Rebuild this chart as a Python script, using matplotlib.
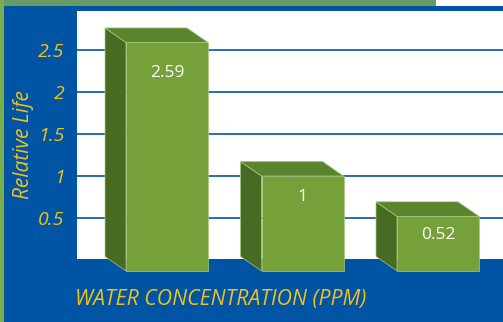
import matplotlib
matplotlib.use("Agg")
import matplotlib.pyplot as plt
from matplotlib.patches import Polygon, Rectangle

# Chart data
categories = ["Low", "Medium", "High"]
relative_life = [2.59, 1.0, 0.52]
tick_values = [0.5, 1, 1.5, 2, 2.5]
tick_labels = ["0.5", "1", "1.5", "2", "2.5"]

W, H = 503, 322
BLUE = "#0054a4"
YELLOW = "#f3c11b"
FRONT = "#76a03a"
TOP = "#5a842d"
SIDE = "#486b23"
EDGE = "#a9c97a"
FONT = ["Open Sans", "DejaVu Sans"]

fig = plt.figure(figsize=(W / 100, H / 100), dpi=100)
fig.patch.set_facecolor("white")

def px_rect(x0, y0, x1, y1, color):
    """Rectangle in pixel units measured from the top-left corner."""
    fig.patches.append(Rectangle((x0 / W, 1 - y1 / H), (x1 - x0) / W, (y1 - y0) / H,
                                 transform=fig.transFigure, facecolor=color,
                                 edgecolor="none", zorder=-10))

# Frame: green strips and the blue panel
px_rect(0, 0, 436, 6, "#689a66")
px_rect(0, 0, 4, H, "#7aae4c")
px_rect(4, 6, W, H, BLUE)

# Plot area (white)
ax_l, ax_t, ax_r, ax_b = 77, 11, 503, 259
ax = fig.add_axes([ax_l / W, 1 - ax_b / H, (ax_r - ax_l) / W, (ax_b - ax_t) / H])
ax.set_zorder(5)
ax.set_facecolor("white")
ppu_y = 84.0                      # pixels per unit on the value axis
step_x = 135.5                    # pixels between bar centres
first_cx = 167
y_bottom = 1 / ppu_y
ax.set_ylim(y_bottom, y_bottom + (ax_b - ax_t) / ppu_y)
ax.set_xlim(-(first_cx - ax_l) / step_x, (ax_r - first_cx) / step_x)
for s in ax.spines.values():
    s.set_visible(False)

ax.set_yticks(tick_values)
ax.set_yticklabels(tick_labels)
ax.set_xticks([])
ax.tick_params(axis="y", length=0, pad=9, colors=YELLOW)
for lab in ax.get_yticklabels():
    lab.set_fontfamily(FONT)
    lab.set_fontstyle("italic")
    lab.set_fontsize(14)
ax.yaxis.grid(True, color="#1c5dab", linewidth=1.3)
ax.set_axisbelow(True)

# 3-D boxes
bar_w = 82 / step_x
dx = -21 / step_x
dy = 14.5 / ppu_y
floor = -11 / ppu_y
for i, v in enumerate(relative_life):
    xl, xr = i - bar_w / 2, i + bar_w / 2
    side = Polygon([(xl, floor), (xl, v), (xl + dx, v + dy), (xl + dx, floor + dy)],
                   closed=True, facecolor=SIDE, edgecolor=EDGE, linewidth=0.5,
                   clip_on=False, zorder=3)
    top = Polygon([(xl, v), (xr, v), (xr + dx, v + dy), (xl + dx, v + dy)],
                  closed=True, facecolor=TOP, edgecolor=EDGE, linewidth=0.5,
                  clip_on=False, zorder=3)
    front = Polygon([(xl, floor), (xr, floor), (xr, v), (xl, v)],
                    closed=True, facecolor=FRONT, edgecolor=EDGE, linewidth=0.5,
                    clip_on=False, zorder=4)
    for p in (side, top, front):
        ax.add_patch(p)
    # value label sits a little lower inside taller boxes
    drop = 11 + 4.2 * v
    ax.annotate(f"{v:g}", (i, v), xytext=(0, -drop), textcoords="offset points",
                ha="center", va="center", color="white", fontsize=12.5,
                family=FONT, zorder=5)

# Axis titles
fig.text(23 / W, 1 - 145 / H, "Relative Life", rotation=90, ha="center", va="center",
         color=YELLOW, fontsize=15, fontstyle="italic", family=FONT)
fig.text(75 / W, 1 - 299 / H, "WATER CONCENTRATION (PPM)", ha="left", va="center",
         color=YELLOW, fontsize=15.3, fontstyle="italic", family=FONT)

fig.savefig("out.png", dpi=100, facecolor=fig.get_facecolor())
